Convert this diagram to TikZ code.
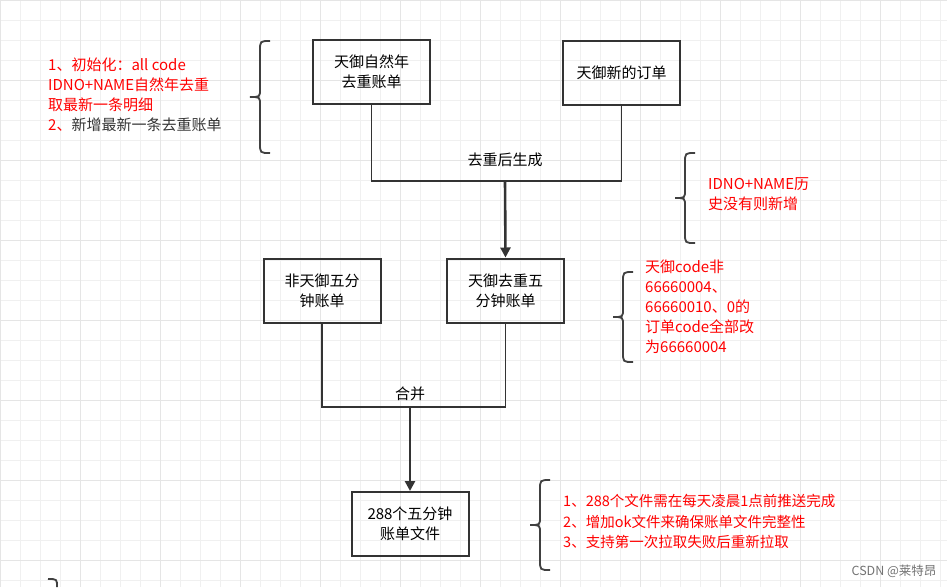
\documentclass[tikz,border=0pt]{standalone}
\usepackage{fontspec}
\setmainfont{Noto Sans CJK SC}
\usetikzlibrary{arrows.meta}
\tikzset{
  box/.style={draw=black!80,line width=2pt,minimum width=117pt,minimum height=64pt,align=center,inner sep=0pt},
  link/.style={draw=black!80,line width=1.6pt},
  flow/.style={draw=black!80,line width=2.6pt,-{Triangle[length=10pt,width=10pt]}},
  note/.style={align=left,anchor=north west,inner sep=0pt,text=red},
  curly/.style={draw=black!75,line width=1.8pt}
}
\newcommand{\curlybrace}[3]{% x, ytop, ybottom
  \draw[curly] (#1+10,#2) .. controls (#1,#2) .. (#1,#2+10) -- (#1,{(#2+#3)/2-8})
    .. controls (#1,{(#2+#3)/2}) .. (#1-10,{(#2+#3)/2})
    .. controls (#1,{(#2+#3)/2}) .. (#1,{(#2+#3)/2+8}) -- (#1,#3-10)
    .. controls (#1,#3) .. (#1+10,#3);}
\begin{document}
\begin{tikzpicture}[x=1pt,y=-1pt,font=\fontsize{15}{20}\selectfont]
\useasboundingbox (0,0) rectangle (947,587);
% grid
\foreach \g in {0,20,...,940} \draw[black!6,line width=0.8pt] (\g,0) -- (\g,587);
\foreach \g in {0,20,...,580} \draw[black!6,line width=0.8pt] (0,\g) -- (947,\g);
\foreach \g in {0,80,...,940} \draw[black!10,line width=0.8pt] (\g,0) -- (\g,587);
\foreach \g in {0,80,...,580} \draw[black!10,line width=0.8pt] (0,\g) -- (947,\g);
% boxes
\node[box] (year) at (371.5,71.5) {天御自然年\\去重账单};
\node[box] (new) at (621.5,72.5) {天御新的订单};
\node[box] (dedup) at (505.5,290.5) {天御去重五\\分钟账单};
\node[box] (other) at (322,290.5) {非天御五分\\钟账单};
\node[box] (files) at (410,524) {288个五分钟\\账单文件};
\coordinate (j1) at (505,181);
\coordinate (j2) at (410,407);
% connectors
\draw[link] (year.south) |- (j1) -| (new.south);
\node at (505,160) {去重后生成};
\draw[flow] (j1) -- (dedup.north);
\draw[link] (other.south) |- (j2) -| (dedup.south);
\node at (410,394) {合并};
\draw[flow] (j2) -- (files.north);
% braces
\curlybrace{260}{41}{153}
\curlybrace{685}{153}{243}
\curlybrace{623}{272}{362}
\curlybrace{540}{480}{570}
\draw[curly] (48,579) .. controls (57,579) .. (57,587);
% notes
\node[note] at (48,58) {1、初始化：all code\\IDNO+NAME自然年去重\\取最新一条明细\\2、\textcolor{black!80}{新增最新一条去重账单}};
\node[note] at (708,177) {IDNO+NAME历\\史没有则新增};
\node[note] at (645,260) {天御code非\\66660004、\\66660010、0的\\订单code全部改\\为66660004};
\node[note,font=\fontsize{14.5}{20.5}\selectfont] at (563,494) {1、288个文件需在每天凌晨1点前推送完成\\2、增加ok文件来确保账单文件完整性\\3、支持第一次拉取失败后重新拉取};
\node[text=black!55,font=\fontsize{12.5}{14}\selectfont,anchor=east] at (940,571) {CSDN @莱特昂};
\end{tikzpicture}
\end{document}
